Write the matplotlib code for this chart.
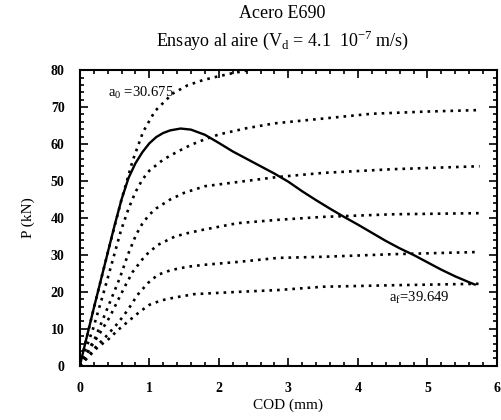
import numpy as np
import matplotlib.pyplot as plt
from matplotlib.ticker import MultipleLocator

plt.rcParams['font.family'] = ['Liberation Serif', 'DejaVu Serif']
plt.rcParams['mathtext.fontset'] = 'custom'
plt.rcParams['mathtext.rm'] = 'Liberation Serif'

# measured curve (solid)
cod = [0, 0.1, 0.2, 0.3, 0.4, 0.5, 0.6, 0.7, 0.8, 0.9, 1.0, 1.1, 1.2, 1.3, 1.45,
       1.6, 1.8, 2.0, 2.2, 2.4, 2.6, 2.8, 3.0, 3.2, 3.4, 3.6, 3.8, 4.0, 4.2, 4.4,
       4.6, 4.8, 5.0, 5.2, 5.4, 5.6, 5.68]
p = [0, 7.8, 15.5, 23, 30.5, 38, 45, 50.8, 54.8, 57.8, 60.2, 61.9, 63, 63.7, 64.2,
     63.9, 62.5, 60.3, 58, 56, 54, 52, 49.8, 47.2, 44.8, 42.5, 40.3, 38.2, 36, 33.8,
     31.8, 30, 28, 26, 24.2, 22.6, 22]

# compliance curves (dotted)
c1_x = [0, 0.2, 0.4, 0.6, 0.76, 0.91, 1.08, 1.33, 1.55, 1.77, 1.94, 2.2, 2.5, 3.0]
c1_y = [0, 15.5, 30.5, 45, 55.5, 63.3, 68.9, 73.6, 75.9, 77.3, 78.1, 79.2, 80.2, 81]
c2_x = [0, 0.19, 0.33, 0.45, 0.59, 0.7, 0.8, 0.9, 1.0, 1.2, 1.4, 1.6, 1.8, 2.0,
        2.4, 2.8, 3.5, 4.2, 5.0, 5.75]
c2_y = [0, 10, 19, 27, 36.5, 42.5, 47, 50.4, 52.8, 55.8, 57.9, 59.8, 61.3, 62.6,
        64.3, 65.6, 66.9, 68.2, 68.8, 69.2]
c3_x = [0, 0.22, 0.33, 0.45, 0.58, 0.69, 0.81, 0.9, 1.0, 1.1, 1.3, 1.5, 1.8,
        2.3, 2.85, 3.5, 4.5, 5.75]
c3_y = [0, 7.5, 12.5, 18, 24, 30, 35.5, 38.5, 40.9, 42.6, 45, 46.8, 48.6,
        49.8, 51.1, 52.2, 53.2, 54]
c4_x = [0, 0.16, 0.29, 0.43, 0.55, 0.66, 0.76, 0.94, 1.12, 1.37, 1.55, 1.77,
        2.27, 2.85, 3.5, 4.5, 5.75]
c4_y = [0, 5.1, 8.9, 13.2, 17.8, 21.9, 25.4, 29.8, 32.7, 35, 35.9, 36.8,
        38.6, 39.5, 40.3, 41, 41.3]
c5_x = [0, 0.23, 0.37, 0.55, 0.69, 0.83, 0.98, 1.12, 1.31, 1.55, 1.77, 2.27,
        2.85, 3.5, 4.5, 5.75]
c5_y = [0, 5.1, 7.8, 11.6, 15.1, 19.2, 22.4, 24.6, 25.9, 26.8, 27.3, 28.1,
        29.2, 29.5, 30.2, 30.8]
c6_x = [0, 0.26, 0.4, 0.55, 0.72, 0.86, 1.0, 1.17, 1.37, 1.65, 2.27, 2.85,
        3.5, 4.5, 5.75]
c6_y = [0, 5.1, 7, 9.7, 12.4, 14.6, 16.5, 17.7, 18.5, 19.4, 20, 20.5,
        21.4, 21.8, 22.2]

fig = plt.figure(figsize=(5.02, 4.2), dpi=100)
ax = fig.add_axes([0.159, 0.129, 0.831, 0.704])

dot = dict(color='black', lw=1.9, linestyle=(0, (1, 1.9)), dash_capstyle='butt')
for xs, ys in [(c1_x, c1_y), (c2_x, c2_y), (c3_x, c3_y),
               (c4_x, c4_y), (c5_x, c5_y), (c6_x, c6_y)]:
    ax.plot(xs, ys, **dot)
ax.plot(cod, p, color='black', lw=1.7)

ax.set_xlim(0, 6)
ax.set_ylim(0, 80)
ax.xaxis.set_major_locator(MultipleLocator(1))
ax.xaxis.set_minor_locator(MultipleLocator(0.2))
ax.yaxis.set_major_locator(MultipleLocator(10))
ax.yaxis.set_minor_locator(MultipleLocator(2))
ax.tick_params(which='both', direction='in', top=True, right=True, width=1.2)
ax.tick_params(which='major', length=6)
ax.tick_params(which='minor', length=3)
ax.tick_params(axis='x', pad=12, labelsize=10)
ax.tick_params(axis='y', pad=11, labelsize=10)
for lab in ax.get_xticklabels() + ax.get_yticklabels():
    lab.set_fontweight('bold')
for s in ax.spines.values():
    s.set_linewidth(1.5)

ax.set_xlabel('COD (mm)', fontsize=11, labelpad=2)
ax.set_ylabel('P (kN)', fontsize=11, labelpad=11)

ax.text(0.4, 73.8, r'a$_0$ =30.675', fontsize=10.5, va='center', ha='left')
ax.text(4.45, 18.5, r'a$_\mathrm{f}$=39.649', fontsize=10.5, va='center', ha='left')

fig.text(0.563, 0.967, 'Acero E690', fontsize=13, ha='center', va='center')
fig.text(0.563, 0.905, r'Ensayo al aire (V$_\mathrm{d}$ = 4.1  10$^{-7}$ m/s)',
         fontsize=13, ha='center', va='center')

fig.savefig('out.png', dpi=100)
